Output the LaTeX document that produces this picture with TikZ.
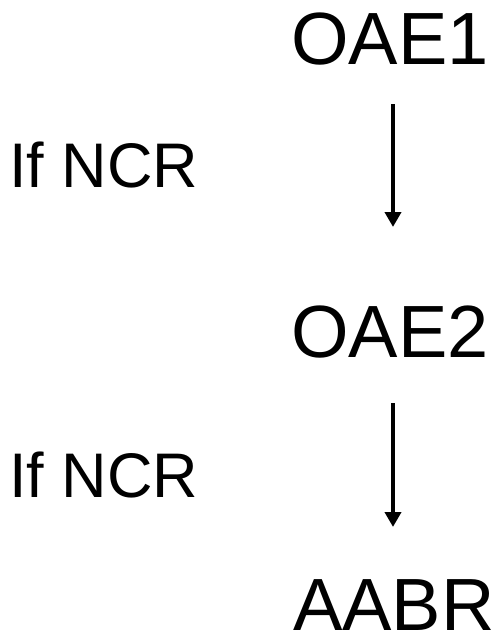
\documentclass[tikz,border=0pt]{standalone}
\usepackage{fontspec}
\setmainfont{Liberation Sans}
\usetikzlibrary{arrows.meta}
\begin{document}
\begin{tikzpicture}[x=1pt,y=-1pt,
  stage/.style={inner sep=0pt,anchor=base west,font=\fontsize{74}{80}\selectfont},
  cond/.style={inner sep=0pt,anchor=base west,font=\fontsize{63}{68}\selectfont},
  flow/.style={line width=4.5pt,-{Triangle[length=15pt,width=16pt]}}]
\useasboundingbox (0,0) rectangle (497,635);
% stages
\node[stage] (o1) at (291,64) {OAE1};
\node[stage] (o2) at (291,357) {OAE2};
\node[stage] (ab) at (293,630) {AABR};
% conditions
\node[cond] (c1) at (9,187) {If NCR};
\node[cond] (c2) at (9,497) {If NCR};
% arrow ends
\coordinate (s1) at (393,104);
\coordinate (e1) at (393,227);
\coordinate (s2) at (393,403);
\coordinate (e2) at (393,527);
\draw[flow] (s1) -- (e1);
\draw[flow] (s2) -- (e2);
\end{tikzpicture}
\end{document}
